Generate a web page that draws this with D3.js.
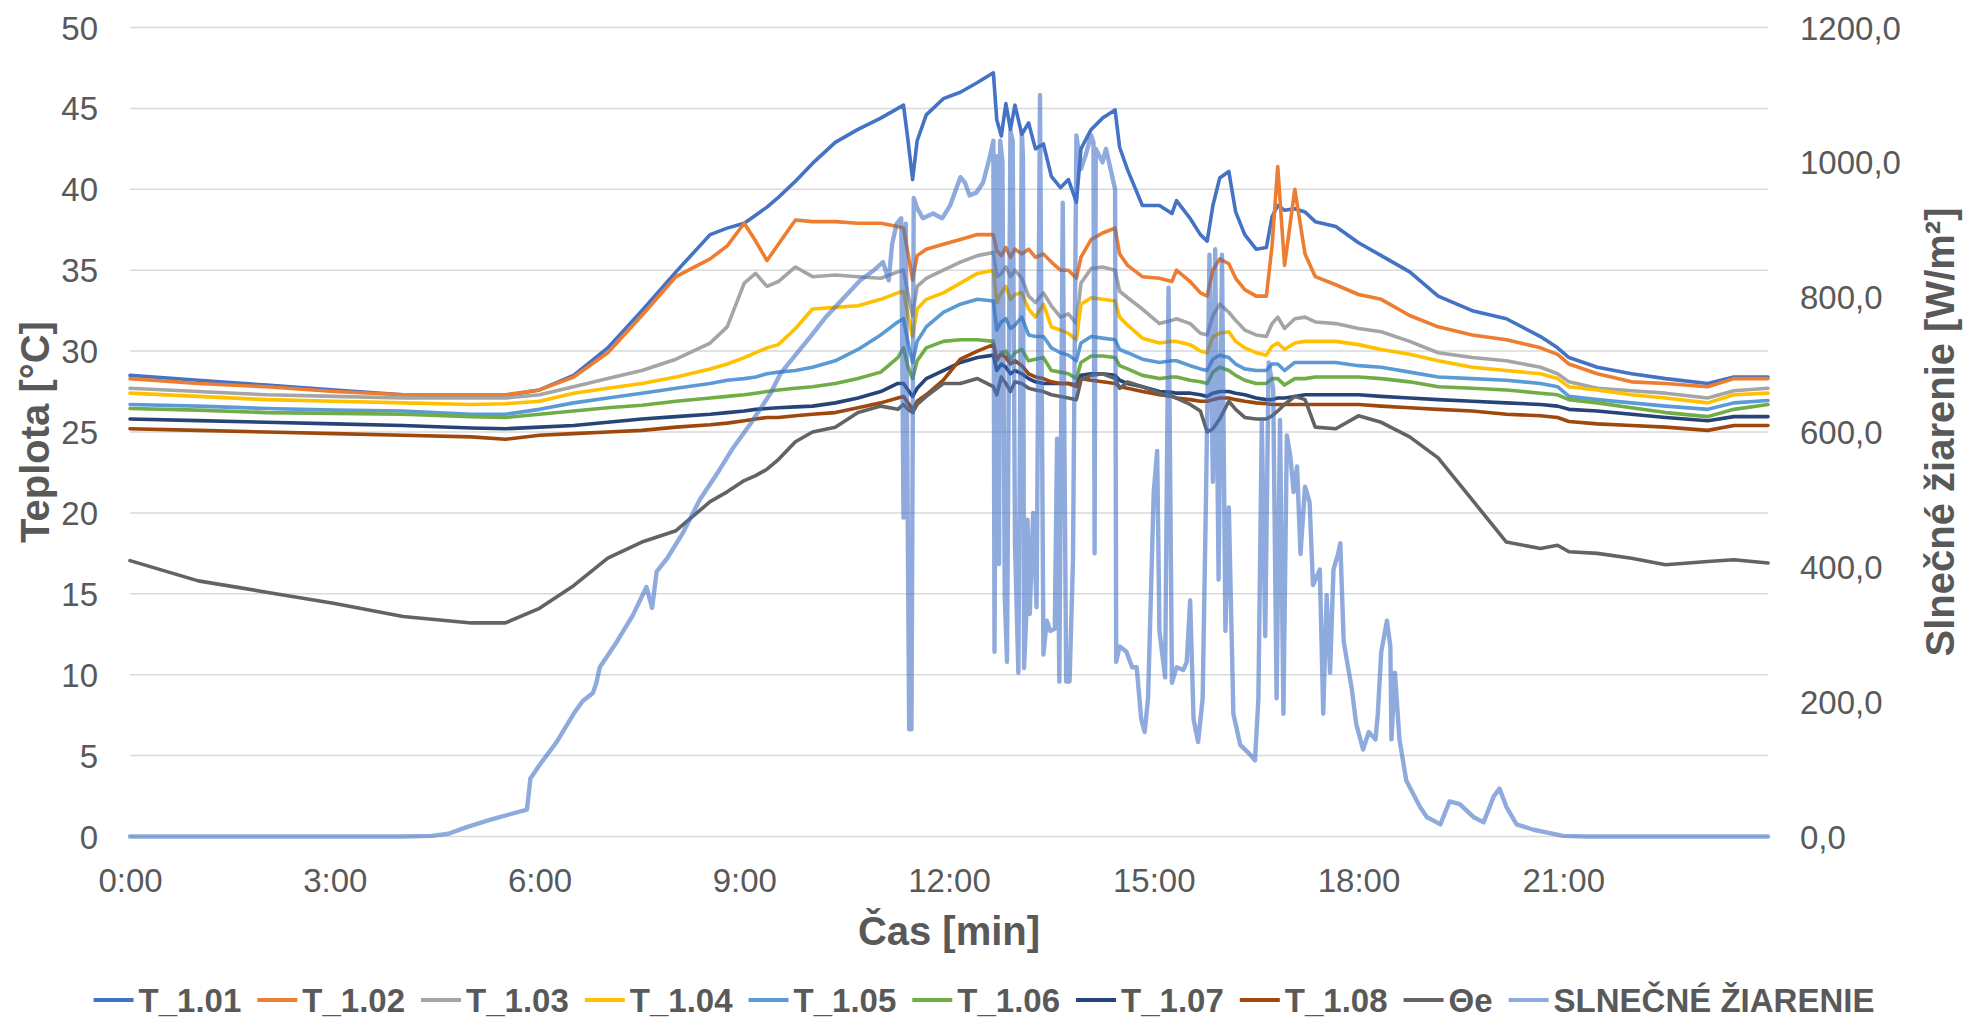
<!DOCTYPE html>
<html>
<head>
<meta charset="utf-8">
<script src="https://cdn.jsdelivr.net/npm/d3@7"></script>
<style>
  body { margin: 0; background: #fff; }
  svg { display: block; }
  text { font-family: "Liberation Sans", Arial, sans-serif; fill: #595959; }
</style>
</head>
<body>
<svg id="chart" width="1967" height="1019"></svg>
<script>
// teploty: spoločná časová os (minúty od 0:00)
const T_MIN = [
  0, 60, 120, 180, 240, 300, 330, 360, 390, 420,
  450, 480, 510, 525, 540, 550, 560, 570, 585, 600,
  620, 640, 660, 675, 680, 684, 688, 692, 700, 715,
  730, 745, 759, 762, 766, 770, 774, 778, 784, 790,
  796, 803, 810, 818, 825, 832, 836, 845, 855, 866,
  870, 877, 890, 905, 916, 920, 932, 941, 947, 952,
  958, 966, 972, 980, 990, 999, 1004, 1009, 1015, 1024,
  1033, 1042, 1060, 1080, 1100, 1125, 1150, 1180, 1210, 1240,
  1255, 1265, 1290, 1320, 1350, 1387, 1410, 1440
];

const T_101 = [
  28.5, 28.2, 27.9, 27.6, 27.3, 27.2, 27.25, 27.6, 28.5, 30.2,
  32.5, 34.9, 37.2, 37.6, 37.9, 38.4, 38.9, 39.5, 40.5, 41.6,
  42.9, 43.7, 44.4, 45.0, 45.2, 43.0, 40.6, 43.0, 44.6, 45.6,
  46.0, 46.6, 47.2, 44.3, 43.3, 45.3, 43.7, 45.2, 43.4, 44.1,
  42.5, 42.8, 40.8, 40.1, 40.6, 39.2, 42.5, 43.7, 44.4, 44.9,
  42.6, 41.2, 39.0, 39.0, 38.5, 39.3, 38.2, 37.2, 36.8, 39.0,
  40.7, 41.1, 38.6, 37.2, 36.3, 36.4, 38.3, 39.0, 38.7, 38.8,
  38.6, 38.0, 37.7, 36.7, 35.9, 34.9, 33.4, 32.5, 32.0, 30.9,
  30.2, 29.6, 29.0, 28.6, 28.3, 28.0, 28.4, 28.4
];
const T_102 = [
  28.3, 28.0, 27.8, 27.5, 27.3, 27.3, 27.3, 27.6, 28.4, 29.9,
  32.2, 34.6, 35.7, 36.5, 37.9, 36.8, 35.6, 36.6, 38.1, 38.0,
  38.0, 37.9, 37.9, 37.7, 37.6, 36.0, 34.4, 35.9, 36.3, 36.6,
  36.9, 37.2, 37.2, 36.2, 35.9, 36.4, 35.8, 36.3, 36.0, 36.3,
  35.8, 36.0, 35.5, 35.0, 35.0, 34.5, 35.8, 36.9, 37.3, 37.6,
  36.0, 35.3, 34.6, 34.5, 34.3, 35.0, 34.3, 33.6, 33.4, 35.0,
  35.7, 35.4, 34.5, 33.8, 33.4, 33.4, 36.5, 41.4, 35.3, 40.0,
  36.0, 34.6, 34.1, 33.5, 33.2, 32.2, 31.5, 31.0, 30.7, 30.2,
  29.8, 29.2, 28.6, 28.1, 28.0, 27.8, 28.3, 28.3
];
const T_103 = [
  27.7, 27.5, 27.3, 27.2, 27.1, 27.1, 27.1, 27.3, 27.8, 28.3,
  28.8, 29.5, 30.5, 31.5, 34.2, 34.8, 34.0, 34.3, 35.2, 34.6,
  34.7, 34.6, 34.5, 34.9, 35.0, 33.5, 32.2, 34.0, 34.5, 35.0,
  35.5, 35.9, 36.1, 34.6, 34.8, 35.2, 34.6, 35.0, 34.5, 33.4,
  33.0, 33.6, 32.8, 32.1, 32.3, 31.7, 34.2, 35.1, 35.2, 35.0,
  33.7, 33.3, 32.6, 31.7, 31.9, 32.0, 31.7, 31.1, 31.0, 32.2,
  32.9, 32.4, 31.9, 31.3, 31.0, 30.9, 31.7, 32.1, 31.4, 32.0,
  32.1, 31.8, 31.7, 31.4, 31.2, 30.6, 29.9, 29.6, 29.4, 29.0,
  28.6, 28.1, 27.7, 27.55, 27.4, 27.1, 27.55, 27.7
];
const T_104 = [
  27.4, 27.2, 27.0, 26.9, 26.8, 26.7, 26.75, 26.9, 27.4, 27.7,
  28.0, 28.4, 28.9, 29.2, 29.6, 29.9, 30.2, 30.4, 31.4, 32.6,
  32.7, 32.8, 33.2, 33.6, 33.7, 32.2, 30.9, 32.6, 33.2, 33.6,
  34.2, 34.8, 35.0, 33.0, 33.6, 34.0, 33.2, 33.5, 33.6, 32.6,
  32.1, 32.9, 31.5, 31.3, 31.1, 30.7, 32.9, 33.3, 33.2, 33.1,
  32.1, 31.6, 30.8, 30.5, 30.6, 30.6, 30.4, 30.0, 29.9, 30.9,
  31.1, 31.2, 30.6, 30.2, 29.9, 29.75, 30.3, 30.5, 30.1, 30.5,
  30.6, 30.6, 30.6, 30.4, 30.1, 29.8, 29.4, 29.0, 28.8, 28.6,
  28.3, 27.8, 27.6, 27.3, 27.1, 26.8, 27.3, 27.4
];
const T_105 = [
  26.7, 26.6, 26.45, 26.35, 26.3, 26.1, 26.1, 26.4, 26.8, 27.1,
  27.4, 27.7, 28.0, 28.2, 28.3, 28.4, 28.6, 28.7, 28.8, 29.0,
  29.4, 30.1, 31.0, 31.8, 32.0, 30.5, 29.3, 30.6, 31.5, 32.4,
  32.9, 33.2, 33.1, 31.3, 31.8, 32.0, 31.4, 31.6, 32.1, 31.0,
  30.9, 30.9, 30.2, 29.9, 29.75, 29.4, 30.5, 30.9, 30.8, 30.7,
  30.1, 29.9, 29.5, 29.3, 29.4, 29.4, 29.1, 28.9, 28.8, 29.5,
  29.75, 29.6, 29.2, 28.9, 28.8, 28.8, 29.2, 29.2, 28.8, 29.3,
  29.3, 29.3, 29.3, 29.1, 29.0, 28.7, 28.4, 28.3, 28.2, 28.0,
  27.8, 27.2, 27.0, 26.8, 26.6, 26.4, 26.8, 26.95
];
const T_106 = [
  26.45, 26.35, 26.2, 26.15, 26.1, 25.95, 25.9, 26.1, 26.3, 26.5,
  26.65, 26.9, 27.1, 27.2, 27.3, 27.4, 27.5, 27.6, 27.7, 27.8,
  28.0, 28.3, 28.7, 29.6, 30.2, 29.0, 28.3, 29.4, 30.2, 30.6,
  30.7, 30.7, 30.6, 29.4, 29.9, 30.0, 29.5, 29.9, 30.1, 29.4,
  29.5, 29.6, 28.8, 28.7, 28.6, 28.3, 29.3, 29.7, 29.7, 29.6,
  29.1, 28.9, 28.5, 28.3, 28.4, 28.4, 28.2, 28.1, 28.0, 28.7,
  29.0, 28.8, 28.5, 28.2, 28.0, 28.0, 28.3, 28.3, 27.9, 28.3,
  28.3, 28.4, 28.4, 28.4, 28.3, 28.1, 27.8, 27.7, 27.6, 27.4,
  27.3, 27.0, 26.8, 26.5, 26.2, 25.95, 26.4, 26.7
];
const T_107 = [
  25.8, 25.7, 25.6, 25.5, 25.4, 25.25, 25.2, 25.3, 25.4, 25.6,
  25.8, 25.95, 26.1, 26.2, 26.3, 26.4, 26.45, 26.5, 26.55, 26.6,
  26.8, 27.1, 27.5, 28.0, 28.0, 27.6, 27.2, 27.7, 28.3, 28.8,
  29.3, 29.6, 29.75, 28.8, 29.2, 29.0, 28.6, 28.8, 28.6, 28.3,
  28.1, 28.0, 28.0, 28.0, 28.0, 27.9, 28.5, 28.6, 28.6, 28.5,
  28.2, 28.0, 27.8, 27.5, 27.45, 27.4, 27.4, 27.3, 27.2, 27.4,
  27.5, 27.5, 27.4, 27.3, 27.1, 27.0, 27.0, 27.1, 27.1, 27.2,
  27.3, 27.3, 27.3, 27.3, 27.2, 27.1, 27.0, 26.9, 26.8, 26.7,
  26.6, 26.4, 26.3, 26.1, 25.9, 25.7, 25.95, 25.95
];
const T_108 = [
  25.2, 25.1, 25.0, 24.9, 24.8, 24.7, 24.55, 24.8, 24.9, 25.0,
  25.1, 25.3, 25.45, 25.55, 25.7, 25.8, 25.9, 25.9, 26.0, 26.1,
  26.2, 26.5, 26.8, 27.1, 27.2, 26.8, 26.4, 26.9, 27.3, 28.2,
  29.5, 30.0, 30.4, 29.5, 29.8, 29.6, 29.2, 29.4, 29.1, 28.6,
  28.4, 28.3, 28.1, 28.0, 28.0, 27.8, 28.3, 28.2, 28.1, 28.0,
  27.8, 27.7, 27.5, 27.3, 27.2, 27.1, 27.0, 26.9, 26.9, 27.0,
  27.1, 27.1, 27.0, 26.9, 26.8, 26.75, 26.7, 26.7, 26.7, 26.7,
  26.7, 26.7, 26.7, 26.7, 26.6, 26.5, 26.4, 26.3, 26.1, 26.0,
  25.9, 25.65, 25.5, 25.4, 25.3, 25.1, 25.4, 25.4
];
const THETA_E = [
  17.05, 15.8, 15.1, 14.4, 13.6, 13.2, 13.2, 14.1, 15.5, 17.2,
  18.2, 18.9, 20.7, 21.3, 22.0, 22.3, 22.7, 23.3, 24.4, 25.0,
  25.3, 26.2, 26.6, 26.4, 26.7, 26.4, 26.2, 26.7, 27.2, 28.0,
  28.0, 28.3, 27.8, 27.3, 28.4, 28.0, 27.5, 28.1, 28.0, 27.7,
  27.6, 27.5, 27.3, 27.2, 27.1, 27.0, 28.2, 28.5, 28.6, 28.3,
  27.7, 28.1, 27.8, 27.4, 27.2, 27.1, 26.7, 26.3, 25.0, 25.2,
  25.8, 26.9, 26.4, 25.9, 25.8, 25.8, 26.0, 26.3, 26.7, 27.2,
  27.0, 25.3, 25.2, 26.0, 25.6, 24.7, 23.4, 20.8, 18.2, 17.8,
  18.0, 17.6, 17.5, 17.2, 16.8, 17.0, 17.1, 16.9
];

// slnečné žiarenie [minúta, W/m2]
const IRRADIANCE = [
  [0, 0], [240, 0], [265, 1], [280, 4], [296, 14], [317, 25], [334, 33], [349, 40], [352, 86], [360, 106],
  [375, 140], [390, 182], [398, 201], [407, 213], [410, 228], [413, 251], [428, 289], [442, 328], [454, 370], [459, 339],
  [463, 393], [472, 412], [486, 450], [501, 500], [516, 538], [530, 576], [545, 611], [563, 657], [572, 687], [583, 710],
  [598, 741], [612, 771], [627, 798], [642, 825], [654, 840], [662, 852], [667, 825], [670, 879], [674, 909], [678, 917],
  [680, 473], [681, 700], [682, 909], [684, 400], [685, 159], [687, 159], [689, 947], [692, 932], [697, 917], [706, 924],
  [714, 917], [721, 936], [730, 978], [734, 970], [738, 951], [744, 955], [750, 970], [756, 1009], [759, 1032], [760, 274],
  [762, 1009], [764, 404], [765, 1032], [767, 1001], [769, 358], [771, 259], [774, 1047], [776, 1032], [778, 435], [781, 243],
  [784, 1047], [785, 1009], [786, 250], [788, 330], [789, 470], [791, 330], [794, 480], [797, 340], [800, 1100], [803, 270],
  [806, 320], [809, 305], [813, 308], [815, 590], [817, 230], [820, 940], [823, 230], [826, 230], [829, 410], [832, 1040],
  [836, 990], [840, 1010], [845, 1040], [847, 1030], [848, 420], [849, 1020], [855, 1000], [858, 1020], [862, 990], [866, 960],
  [867, 259], [870, 282], [876, 274], [881, 251], [885, 251], [889, 174], [892, 155], [895, 205], [900, 511], [903, 572],
  [905, 305], [910, 236], [913, 814], [916, 228], [920, 251], [926, 247], [929, 259], [932, 350], [935, 174], [939, 140],
  [943, 205], [946, 511], [949, 863], [952, 526], [954, 871], [957, 381], [960, 863], [963, 305], [966, 488], [970, 182],
  [976, 136], [985, 121], [989, 113], [992, 205], [995, 618], [998, 297], [1001, 703], [1005, 664], [1008, 205], [1011, 618],
  [1014, 182], [1017, 595], [1020, 565], [1023, 511], [1026, 549], [1029, 419], [1033, 519], [1037, 496], [1040, 373], [1046, 396],
  [1049, 182], [1052, 358], [1055, 243], [1058, 396], [1062, 419], [1064, 435], [1067, 289], [1070, 259], [1074, 220], [1078, 167],
  [1084, 129], [1089, 155], [1095, 144], [1097, 182], [1100, 274], [1105, 320], [1108, 282], [1109, 144], [1112, 243], [1116, 144],
  [1122, 83], [1134, 44], [1140, 29], [1152, 18], [1160, 52], [1169, 48], [1181, 29], [1190, 21], [1199, 60], [1204, 71],
  [1210, 44], [1219, 18], [1234, 10], [1245, 6], [1260, 1], [1280, 0], [1440, 0]
];

const X_TICKS = [0, 180, 360, 540, 720, 900, 1080, 1260];
const X_TICK_LABELS = ["0:00", "3:00", "6:00", "9:00", "12:00", "15:00", "18:00", "21:00"];
const Y_LEFT_TICKS = [0, 5, 10, 15, 20, 25, 30, 35, 40, 45, 50];
const Y_RIGHT_TICKS = [0, 200, 400, 600, 800, 1000, 1200];

const SERIES = [
  { name: "T_1.01", color: "#4472C4", values: T_101 },
  { name: "T_1.02", color: "#ED7D31", values: T_102 },
  { name: "T_1.03", color: "#A5A5A5", values: T_103 },
  { name: "T_1.04", color: "#FFC000", values: T_104 },
  { name: "T_1.05", color: "#5B9BD5", values: T_105 },
  { name: "T_1.06", color: "#70AD47", values: T_106 },
  { name: "T_1.07", color: "#264478", values: T_107 },
  { name: "T_1.08", color: "#9E480E", values: T_108 },
  { name: "Θe", color: "#636363", values: THETA_E },
];
const IRR_NAME = "SLNEČNÉ ŽIARENIE";
const IRR_COLOR = "#4472C4";
const IRR_OPACITY = 0.6;

// ---------- rozloženie ----------
const svg = d3.select("#chart");
const L = 130, R = 1768, TOP = 27.5, BOT = 836.5;

const x = d3.scaleLinear().domain([0, 1440]).range([L, R]);
const yL = d3.scaleLinear().domain([0, 50]).range([BOT, TOP]);
const yR = d3.scaleLinear().domain([0, 1200]).range([BOT, TOP]);

// mriežka
svg.append("g")
  .selectAll("line")
  .data(Y_LEFT_TICKS)
  .join("line")
  .attr("x1", L).attr("x2", R)
  .attr("y1", (d) => yL(d)).attr("y2", (d) => yL(d))
  .attr("stroke", "#D9D9D9")
  .attr("stroke-width", 1.5);

// osi (bez čiar, iba popisky)
const axisL = svg.append("g")
  .attr("transform", `translate(${L - 32},0)`)
  .call(d3.axisLeft(yL).tickValues(Y_LEFT_TICKS).tickSize(0).tickPadding(0).tickFormat(d3.format("d")));
const axisR = svg.append("g")
  .attr("transform", `translate(${R + 32},0)`)
  .call(d3.axisRight(yR).tickValues(Y_RIGHT_TICKS).tickSize(0).tickPadding(0)
    .tickFormat((d) => d.toFixed(1).replace(".", ",")));
const axisB = svg.append("g")
  .attr("transform", `translate(0,${BOT + 32})`)
  .call(d3.axisBottom(x).tickValues(X_TICKS).tickSize(0).tickPadding(0)
    .tickFormat((d, i) => X_TICK_LABELS[i]));
for (const a of [axisL, axisR, axisB]) {
  a.select(".domain").remove();
  a.selectAll("text")
    .attr("fill", "#595959")
    .style("font-family", '"Liberation Sans", Arial, sans-serif')
    .style("font-size", "33px");
}
axisL.selectAll("text").attr("dy", "0.35em");
axisR.selectAll("text").attr("dy", "0.35em");
axisB.selectAll("text").attr("dy", "0.72em");

// ---------- čiary ----------
const lineT = d3.line()
  .x((d) => x(d[0]))
  .y((d) => yL(d[1]));

const lines = svg.append("g").attr("fill", "none")
  .attr("stroke-linejoin", "round").attr("stroke-linecap", "round");

for (const s of SERIES) {
  lines.append("path")
    .datum(T_MIN.map((m, i) => [m, s.values[i]]))
    .attr("d", lineT)
    .attr("stroke", s.color)
    .attr("stroke-width", 3.6);
}

const lineI = d3.line()
  .x((d) => x(d[0]))
  .y((d) => yR(d[1]));
lines.append("path")
  .datum(IRRADIANCE)
  .attr("d", lineI)
  .attr("stroke", IRR_COLOR)
  .attr("stroke-opacity", IRR_OPACITY)
  .attr("stroke-width", 4.4);

// ---------- názvy osí ----------
svg.append("text")
  .attr("transform", "translate(35,432) rotate(-90)")
  .attr("text-anchor", "middle")
  .attr("dominant-baseline", "central")
  .style("font-size", "40px").style("font-weight", "bold")
  .text("Teplota [°C]");
svg.append("text")
  .attr("transform", "translate(1940,432) rotate(-90)")
  .attr("text-anchor", "middle")
  .attr("dominant-baseline", "central")
  .style("font-size", "40px").style("font-weight", "bold")
  .text("Slnečné žiarenie [W/m²]");
svg.append("text")
  .attr("x", (L + R) / 2).attr("y", 945)
  .attr("text-anchor", "middle")
  .style("font-size", "40px").style("font-weight", "bold")
  .text("Čas [min]");

// ---------- legenda ----------
const legendItems = [...SERIES.map((s) => ({ name: s.name, color: s.color, op: 1 })),
  { name: IRR_NAME, color: IRR_COLOR, op: IRR_OPACITY }];
const legend = svg.append("g");
const LEG_Y = 1000, SYM = 40, GAP = 5, SEP = 16;
let cursor = 0;
for (const it of legendItems) {
  const g = legend.append("g").attr("transform", `translate(${cursor},0)`);
  g.append("line")
    .attr("x1", 0).attr("x2", SYM).attr("y1", LEG_Y).attr("y2", LEG_Y)
    .attr("stroke", it.color).attr("stroke-opacity", it.op).attr("stroke-width", 4);
  const t = g.append("text")
    .attr("x", SYM + GAP).attr("y", LEG_Y).attr("dy", "0.36em")
    .style("font-size", "33px").style("font-weight", "bold")
    .text(it.name);
  cursor += SYM + GAP + t.node().getComputedTextLength() + SEP;
}
const legW = cursor - SEP;
legend.attr("transform", `translate(${984 - legW / 2},0)`);
</script>
</body>
</html>
